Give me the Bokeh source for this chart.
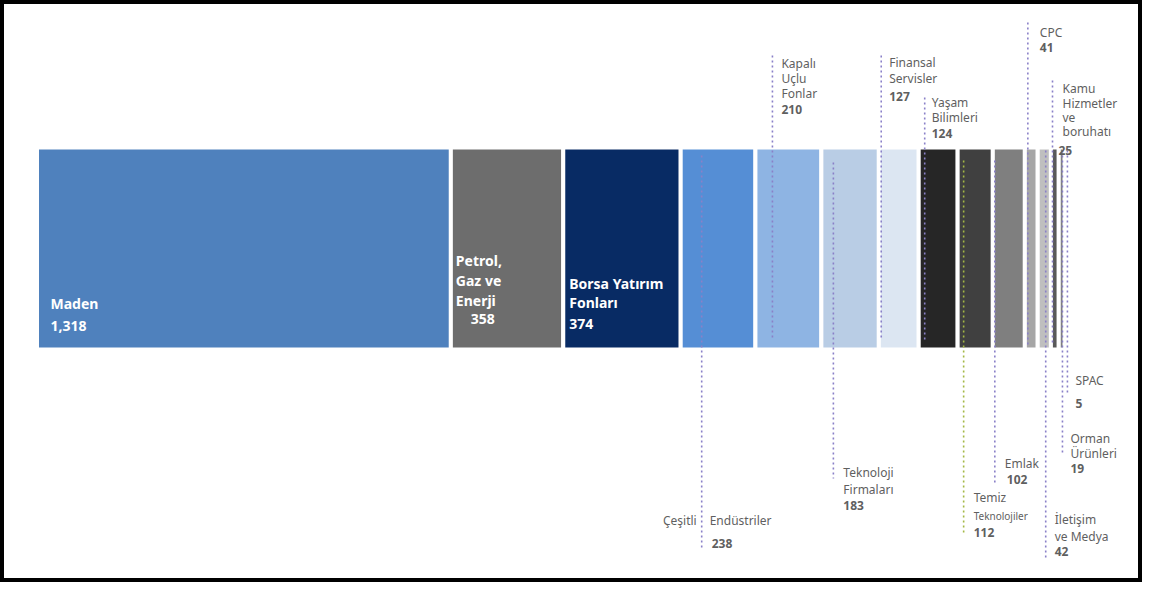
from bokeh.plotting import figure
from bokeh.models import Range1d, ColumnDataSource
from bokeh.embed import file_html
from bokeh.resources import INLINE
from bokeh.core.properties import value

# ---------------- data ----------------
categories = ["Maden", "Petrol,\nGaz ve\nEnerji", "Borsa Yatırım\nFonları", "Çeşitli Endüstriler",
              "Kapalı\nUçlu\nFonlar", "Teknoloji\nFirmaları", "Finansal\nServisler", "Yaşam\nBilimleri",
              "Temiz\nTeknolojiler", "Emlak", "CPC", "İletişim\nve Medya",
              "Kamu\nHizmetler\nve\nboruhatı", "Orman\nÜrünleri", "SPAC"]
values = [1318, 358, 374, 238, 210, 183, 127, 124, 112, 102, 41, 42, 25, 19, 5]
colors = ["#4f81bd", "#6d6d6d", "#082b64", "#558ed5", "#8eb4e3", "#b9cde5", "#dce6f2", "#262626",
          "#404040", "#7f7f7f", "#a6a6a6", "#bfbfbf", "#595959", "#7f7f7f", "#d9d9d9"]

# ---------------- layout (screen pixels) ----------------
W, H = 1142, 582
K = 0.314          # px per unit
X0 = 36.5          # screen x of value 0
x_start = -X0 / K
x_end = x_start + W / K

def sy(s):
    return s

PURPLE = "#8a80c8"
GREEN = "#a3b844"
GRAY = "#5f5f5f"

LAYOUT = [
    dict(kind="in", tx=13.5, ys=[303], vx=13.5, vy=325),
    dict(kind="in", tx=5, ys=[260, 280, 300], vx=20, vy=318),
    dict(kind="in", tx=6, ys=[283, 302], vx=6, vy=323),
    dict(kind="split", lead=21, ly=(155, 548), tdx=8, ys=[520], vdx=10, vy=543),
    dict(kind="out", lead=17, ly=(55, 340), tdx=9, ys=[63, 78, 93], vdx=9, vy=109),
    dict(kind="out", lead=12, ly=(162, 478), tdx=10, ys=[472, 489], vdx=10, vy=505),
    dict(kind="out", lead=2.4, ly=(55, 340), tdx=8, ys=[62, 78], vdx=8, vy=96),
    dict(kind="out", lead=6, ly=(97, 340), tdx=7, ys=[102, 117], vdx=7, vy=133),
    dict(kind="out", lead=6, ly=(160, 535), tdx=10, ys=[497, 515], vdx=10, vy=532, color=GREEN, small=[1]),
    dict(kind="out", lead=2, ly=(160, 482), tdx=10, ys=[463], vdx=12, vy=479),
    dict(kind="out", lead=3, ly=(22, 345), tdx=12, ys=[32], vdx=12, vy=47),
    dict(kind="out", lead=8, ly=(150, 560), tdx=9, ys=[519, 536], vdx=9, vy=551),
    dict(kind="out", lead=1.6, ly=(80, 345), tdx=10, ys=[88, 103, 117, 131], vdx=6, vy=150),
    dict(kind="out", lead=3.7, ly=(150, 455), tdx=8, ys=[438, 453], vdx=8, vy=468),
    dict(kind="out", lead=2.7, ly=(150, 392), tdx=8, ys=[380], vdx=8, vy=403),
]

lefts, rights = [], []
c = 0
for v in values:
    lefts.append(c)
    c += v
    rights.append(c)

p = figure(width=W, height=H, output_backend="svg", toolbar_location=None,
           x_range=Range1d(x_start, x_end), y_range=Range1d(H, 0), min_border=0)
p.xaxis.visible = False
p.yaxis.visible = False
p.grid.visible = False
p.background_fill_color = "white"
p.border_fill_color = "white"
p.outline_line_color = "black"
p.outline_line_width = 7

p.quad(left=lefts, right=rights, top=sy(147), bottom=sy(349), fill_color=colors,
       line_color="white", line_width=4)

rows = {k: dict(x=[], y=[], text=[]) for k in ["wb", "gn", "gb", "gs", "gr"]}
seg = dict(x0=[], y0=[], x1=[], y1=[], color=[])

def add(style, x, y, t):
    rows[style]["x"].append(x)
    rows[style]["y"].append(sy(y))
    rows[style]["text"].append(t)

for i, (cat, v, L) in enumerate(zip(categories, values, LAYOUT)):
    left = lefts[i]
    vtxt = f"{v:,}"
    if L["kind"] == "in":
        for line, yy in zip(cat.split("\n"), L["ys"]):
            add("wb", left + L["tx"] / K, yy, line)
        add("wb", left + L["vx"] / K, L["vy"], vtxt)
        continue
    lead = left + L["lead"] / K
    seg["x0"].append(lead); seg["x1"].append(lead)
    seg["y0"].append(sy(L["ly"][0])); seg["y1"].append(sy(L["ly"][1]))
    seg["color"].append(L.get("color", PURPLE))
    if L["kind"] == "split":
        a, b = cat.split(" ")
        add("gr", lead - 5 / K, L["ys"][0], a)
        add("gn", lead + L["tdx"] / K, L["ys"][0], b)
    else:
        for j, (line, yy) in enumerate(zip(cat.split("\n"), L["ys"])):
            add("gs" if j in L.get("small", []) else "gn", lead + L["tdx"] / K, yy, line)
    add("gb", lead + L["vdx"] / K, L["vy"], vtxt)

p.segment(x0="x0", y0="y0", x1="x1", y1="y1", line_color="color", line_width=1.6,
          line_dash="2 3", source=ColumnDataSource(seg))

styles = {
    "wb": dict(text_color="white", text_font_size="14px", text_font_style="bold", text_align="left"),
    "gn": dict(text_color=GRAY, text_font_size="12px", text_font_style="normal", text_align="left"),
    "gb": dict(text_color=GRAY, text_font_size="12px", text_font_style="bold", text_align="left"),
    "gs": dict(text_color=GRAY, text_font_size="10px", text_font_style="normal", text_align="left"),
    "gr": dict(text_color=GRAY, text_font_size="12px", text_font_style="normal", text_align="right"),
}
for k, st in styles.items():
    if rows[k]["x"]:
        p.text(x="x", y="y", text="text", source=ColumnDataSource(rows[k]),
               text_font=value("Noto Sans"), text_baseline="middle", **st)

open("out.html", "w").write(file_html(p, INLINE))
